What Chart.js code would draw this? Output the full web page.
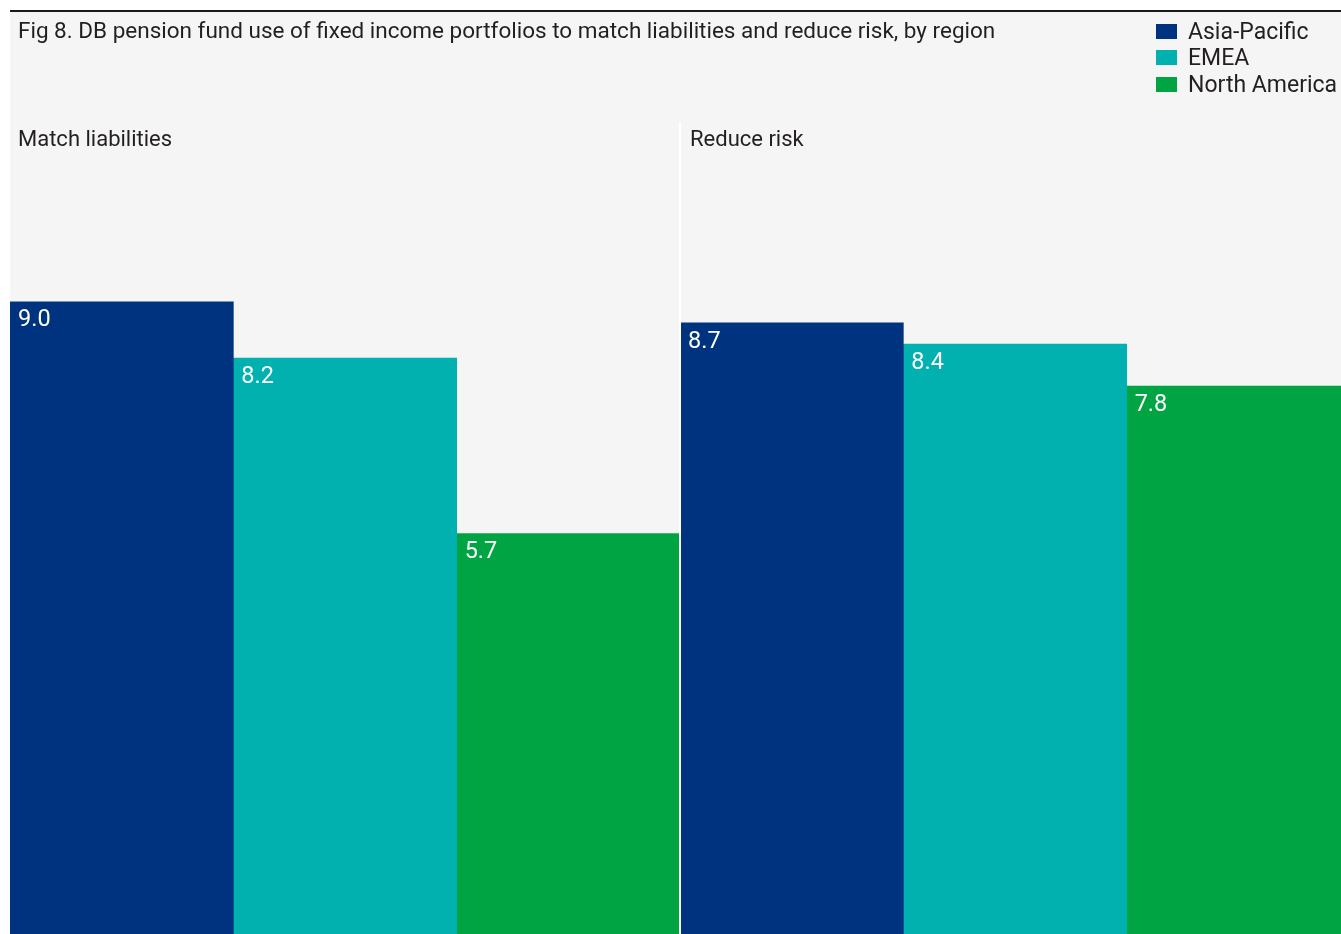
<!DOCTYPE html>
<html>
<head>
<meta charset="utf-8">
<script src="https://cdn.jsdelivr.net/npm/chart.js@4/dist/chart.umd.min.js"></script>
<style>
  html, body { margin: 0; padding: 0; background: #ffffff; }
  body { width: 1341px; height: 934px; overflow: hidden; position: relative; font-family: Roboto, sans-serif; }
  #frame { position: absolute; left: 10px; top: 10px; width: 1331px; height: 924px; background: #f5f5f5; border-top: 2px solid #1a1a1a; box-sizing: border-box; overflow: hidden; }
  #title { position: absolute; left: 8px; top: 5px; font-size: 22.5px; color: #231f20; white-space: nowrap; }
  #legend { position: absolute; left: 1146px; top: 6px; font-size: 23px; color: #231f20; }
  .legend-item { display: flex; align-items: center; height: 26.5px; white-space: nowrap; }
  .legend-box { width: 21px; height: 15px; margin-right: 11px; }
  #chart { position: absolute; left: 0; top: 0; }
</style>
</head>
<body>
<div id="frame">
  <canvas id="chart" width="1340" height="922"></canvas>
  <div id="title">Fig 8. DB pension fund use of fixed income portfolios to match liabilities and reduce risk, by region</div>
  <div id="legend"></div>
</div>
<script>
/* data */
const categories = ['Match liabilities', 'Reduce risk'];
const regions = ['Asia-Pacific', 'EMEA', 'North America'];
const asiaPacific = [9.0, 8.7];
const emea = [8.2, 8.4];
const northAmerica = [5.7, 7.8];

/* constants */
const COLORS = ['#00337f', '#00b1af', '#00a443'];
const Y_MAX = 11.56;

/* plugins */
const panelPlugin = {
  id: 'panels',
  afterDatasetsDraw: (chart) => {
    const ctx = chart.ctx;
    const xScale = chart.scales.x;
    const area = chart.chartArea;
    const step = xScale.getPixelForValue(1) - xScale.getPixelForValue(0);

    ctx.save();

    // divider between the two panels
    for (let i = 1; i < categories.length; i++) {
      const x = xScale.getPixelForValue(i) - step / 2;
      ctx.strokeStyle = '#ffffff';
      ctx.lineWidth = 2;
      ctx.beginPath();
      ctx.moveTo(x, area.top);
      ctx.lineTo(x, area.bottom);
      ctx.stroke();
    }

    // panel labels
    ctx.font = '22px Roboto, sans-serif';
    ctx.fillStyle = '#231f20';
    ctx.textBaseline = 'middle';
    categories.forEach((label, i) => {
      const left = xScale.getPixelForValue(i) - step / 2;
      ctx.fillText(label, left + (i === 0 ? 8 : 10), area.top + 18);
    });

    // value labels inside bars
    ctx.font = '23.5px Roboto, sans-serif';
    ctx.fillStyle = '#ffffff';
    ctx.textBaseline = 'top';
    chart.data.datasets.forEach((dataset, d) => {
      chart.getDatasetMeta(d).data.forEach((bar, i) => {
        const left = bar.x - bar.width / 2;
        ctx.fillText(dataset.data[i].toFixed(1), left + 8, bar.y + 7);
      });
    });

    ctx.restore();
  },
};

/* legend */
const buildLegend = () => {
  const container = document.querySelector('#legend');

  regions.forEach((name, i) => {
    const item = document.createElement('div');
    item.className = 'legend-item';
    const box = document.createElement('span');
    box.className = 'legend-box';
    box.style.background = COLORS[i];
    const text = document.createElement('span');
    text.textContent = name;
    item.appendChild(box);
    item.appendChild(text);
    container.appendChild(item);
  });
};

/* chart */
const createBarChart = () => {
  const element = document.querySelector('#chart');
  const series = [asiaPacific, emea, northAmerica];

  return new Chart(element, {
    type: 'bar',
    data: {
      labels: categories,
      datasets: regions.map((name, i) => ({
        label: name,
        data: series[i],
        backgroundColor: COLORS[i],
        borderWidth: 0,
        categoryPercentage: 1,
        barPercentage: 1,
      })),
    },
    options: {
      responsive: false,
      animation: false,
      layout: { padding: { top: 110, left: 0, right: 0, bottom: 0 } },
      plugins: {
        legend: { display: false },
        tooltip: { enabled: false },
      },
      scales: {
        x: { display: false },
        y: { display: false, min: 0, max: Y_MAX },
      },
    },
    plugins: [panelPlugin],
  });
};

buildLegend();
createBarChart();
</script>
</body>
</html>
